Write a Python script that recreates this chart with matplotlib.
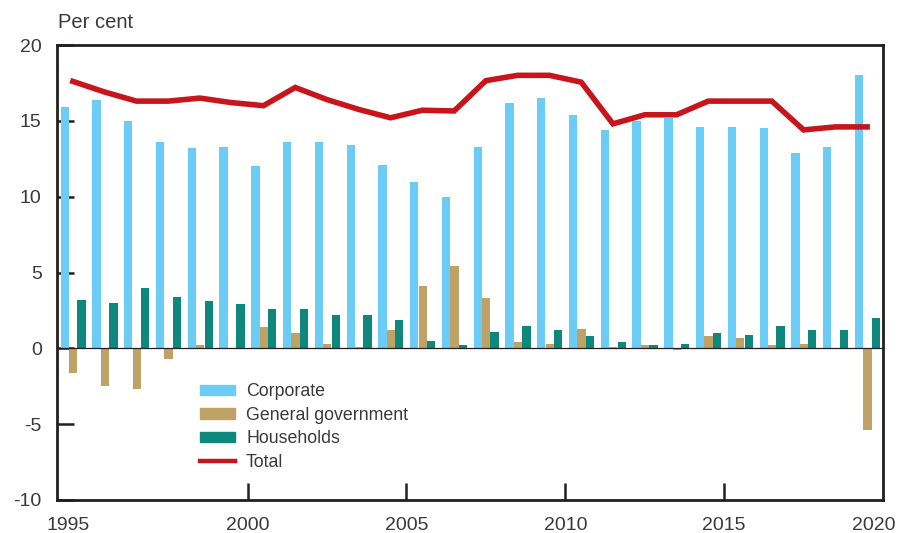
import numpy as np
import matplotlib
matplotlib.use('Agg')
import matplotlib.pyplot as plt
from matplotlib.patches import Patch
from matplotlib.lines import Line2D

plt.rcParams['font.family'] = ['Liberation Sans', 'DejaVu Sans']

# values, per cent
years = list(range(1995, 2021))
corporate = [15.9, 16.4, 15.0, 13.6, 13.2, 13.3, 12.0, 13.6, 13.6, 13.4, 12.1, 11.0, 10.0,
             13.3, 16.2, 16.5, 15.4, 14.4, 15.0, 15.2, 14.6, 14.6, 14.5, 12.9, 13.3, 18.0]
general_government = [-1.6, -2.5, -2.7, -0.7, 0.2, 0.0, 1.4, 1.0, 0.3, 0.07, 1.2, 4.1, 5.4,
                      3.3, 0.4, 0.3, 1.3, 0.07, 0.2, -0.1, 0.8, 0.7, 0.2, 0.3, 0.0, -5.4]
households = [3.2, 3.0, 4.0, 3.4, 3.1, 2.9, 2.6, 2.6, 2.2, 2.2, 1.9, 0.5, 0.2,
              1.1, 1.5, 1.2, 0.8, 0.4, 0.2, 0.3, 1.0, 0.9, 1.5, 1.2, 1.2, 2.0]
total = [17.6, 16.9, 16.3, 16.3, 16.5, 16.2, 16.0, 17.2, 16.4, 15.75, 15.2, 15.7, 15.65,
         17.65, 18.0, 18.0, 17.55, 14.8, 15.4, 15.4, 16.3, 16.3, 16.3, 14.4, 14.6, 14.6]

tick_years = [1995, 2000, 2005, 2010, 2015, 2020]
y_ticks = [-10, -5, 0, 5, 10, 15, 20]

c_corp = '#6bcdf5'
c_gov = '#bfa265'
c_hh = '#0e877c'
c_tot = '#c8141b'
ink = '#231f20'
txt = '#3a3a3a'

fig = plt.figure(figsize=(9, 5.33), dpi=100)
ax = fig.add_axes([57/900, 1 - 500/533, 826/900, 455/533])

x = np.arange(len(years)) + 0.51
w = 0.26
ax.bar(x - 0.265, corporate, w, color=c_corp, zorder=2)
ax.bar(x, general_government, w, color=c_gov, zorder=2)
ax.bar(x + 0.265, households, w, color=c_hh, zorder=2)
ax.plot(x - 0.01, total, color=c_tot, lw=4.0, solid_joinstyle='miter', zorder=4)
ax.axhline(0, color=ink, lw=0.9, zorder=3)

ax.set_xlim(0, len(years))
ax.set_ylim(-10, 20)

for s in ax.spines.values():
    s.set_color(ink)
    s.set_linewidth(2)
    s.set_zorder(5)

ax.set_yticks(y_ticks)
ax.set_yticklabels([str(v) for v in y_ticks])
ax.tick_params(axis='y', direction='in', length=12, width=1.8, color=ink,
               labelsize=14, labelcolor=txt, pad=11)

# boundary ticks at year ends (minor), labels placed on major ticks with no mark
ax.xaxis.remove_overlapping_locs = False
bounds = [years.index(y) + 1 for y in tick_years[1:-1]]
ax.set_xticks(bounds, minor=True)
ax.tick_params(axis='x', which='minor', direction='in', length=12, width=1.8, color=ink)
ax.set_xticks([0.35] + bounds + [len(years) - 0.3])
ax.set_xticklabels([str(y) for y in tick_years])
ax.tick_params(axis='x', which='major', length=0, labelsize=14, labelcolor=txt, pad=12.5)

fig.text(58/900, 1 - 28/533, 'Per cent', fontsize=14.5, color=txt, va='baseline')

handles = [Patch(color=c_corp), Patch(color=c_gov), Patch(color=c_hh),
           Line2D([], [], color=c_tot, lw=3.2)]
ax.legend(handles, ['Corporate', 'General government', 'Households', 'Total'],
          loc='upper left', bbox_to_anchor=(0.165, 0.272), frameon=False,
          fontsize=12.8, labelcolor=txt, handlelength=1.92, handleheight=0.55,
          handletextpad=0.65, labelspacing=0.36, borderaxespad=0)

fig.savefig('out.png', dpi=100)
